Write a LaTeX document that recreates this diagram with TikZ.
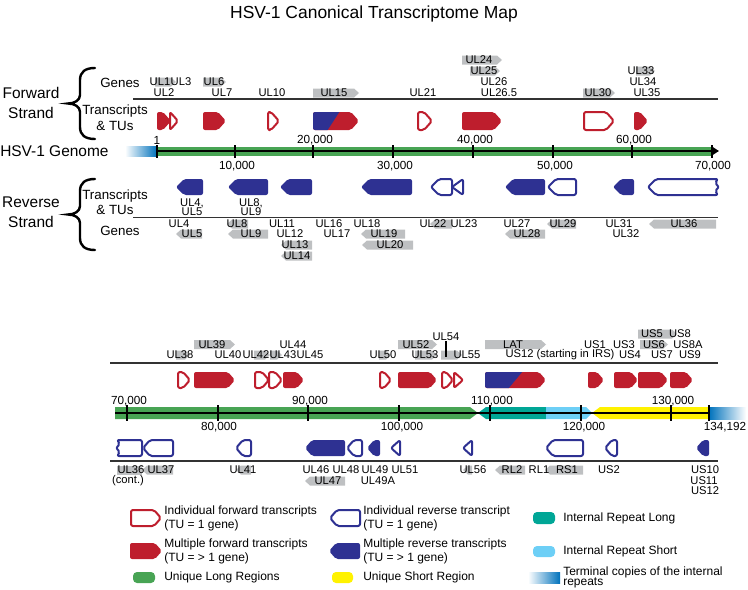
\documentclass[tikz,border=0pt]{standalone}
\usepackage{fontspec}
\setmainfont{Liberation Sans}
\usetikzlibrary{arrows.meta, positioning}

\definecolor{fwdred}{RGB}{190,30,45}
\definecolor{revblue}{RGB}{46,49,146}
\definecolor{ulgreen}{RGB}{72,164,84}
\definecolor{irlteal}{RGB}{0,166,150}
\definecolor{irsblue}{RGB}{109,207,246}
\definecolor{usyellow}{RGB}{255,242,0}
\definecolor{genegrey}{RGB}{190,192,194}
\definecolor{termblue}{RGB}{0,114,188}

% half height and tip length of the transcript arrows
\def\txh{9}\def\txp{8}
% transcripts: style, left x, right x, middle y
\newcommand{\fwdtx}[4]{\draw[#1] (#2,#4-\txh) -- (#3-\txp,#4-\txh) -- (#3,#4) -- (#3-\txp,#4+\txh) -- (#2,#4+\txh) -- cycle;}
\newcommand{\revtx}[4]{\draw[#1] (#3,#4-\txh) -- (#2+\txp,#4-\txh) -- (#2,#4) -- (#2+\txp,#4+\txh) -- (#3,#4+\txh) -- cycle;}
\newcommand{\fwdtri}[4]{\draw[#1] (#2,#4-\txh) -- (#3,#4) -- (#2,#4+\txh) -- cycle;}
\newcommand{\revtri}[4]{\draw[#1] (#3,#4-\txh) -- (#2,#4) -- (#3,#4+\txh) -- cycle;}
% transcript that starts on the reverse strand: left x, right x, y, split x top, split x bottom
\newcommand{\splittx}[5]{%
  \fill[fwdred, rounded corners=1.5pt] (#1,#3-\txh) -- (#2-\txp,#3-\txh) -- (#2,#3) -- (#2-\txp,#3+\txh) -- (#1,#3+\txh) -- cycle;
  \begin{scope}
    \clip[rounded corners=1.5pt] (#1,#3-\txh) -- (#2-\txp,#3-\txh) -- (#2,#3) -- (#2-\txp,#3+\txh) -- (#1,#3+\txh) -- cycle;
    \fill[revblue] (#1-1,#3-\txh-1) -- (#4,#3-\txh-1) -- (#5,#3+\txh+1) -- (#1-1,#3+\txh+1) -- cycle;
  \end{scope}}
% grey gene arrows: left x, right x, y
\newcommand{\fgene}[3]{\fill[genegrey] (#1,#3-4.5) -- (#2-5,#3-4.5) -- (#2,#3) -- (#2-5,#3+4.5) -- (#1,#3+4.5) -- cycle;}
\newcommand{\rgene}[3]{\fill[genegrey] (#2,#3-4.5) -- (#1+5,#3-4.5) -- (#1,#3) -- (#1+5,#3+4.5) -- (#2,#3+4.5) -- cycle;}

\begin{document}
\begin{tikzpicture}[x=0.75pt, y=-0.75pt,
    fwdopen/.style={draw=fwdred, line width=1.5pt, fill=white, rounded corners=1.5pt, line join=round},
    fwdfull/.style={fill=fwdred, draw=none, rounded corners=1.5pt},
    revopen/.style={draw=revblue, line width=1.5pt, fill=white, rounded corners=1.5pt, line join=round},
    revfull/.style={fill=revblue, draw=none, rounded corners=1.5pt},
    titlelbl/.style={font=\fontsize{13.1}{15}\selectfont, inner sep=0pt},
    strand/.style={font=\fontsize{11.6}{15}\selectfont, align=center, inner sep=0pt},
    rowlbl/.style={font=\fontsize{10}{11.6}\selectfont, align=center, inner sep=0pt},
    gene/.style={font=\fontsize{8.4}{8}\selectfont, inner sep=0pt},
    ticklbl/.style={font=\fontsize{8.8}{10}\selectfont, inner sep=0pt},
    legtxt/.style={font=\fontsize{9}{10.5}\selectfont, align=left, inner sep=0pt},
    track/.style={line width=1.1pt, draw=black!80},
    axisline/.style={line width=2pt},
    curly/.style={line width=1.8pt, line cap=round},
    swatch/.style={rounded corners=3pt}
]
\useasboundingbox (0,0) rectangle (748,589);

\node[titlelbl] (title) at (374,14) {HSV-1 Canonical Transcriptome Map};

% ---- first half of the genome ----
\node[strand] (fwdstrand) at (31,103) {Forward\\Strand};
\node[strand] (revstrand) at (31,212.5) {Reverse\\Strand};
\node[strand, anchor=west] (genome) at (0,151) {HSV-1 Genome};
\node[rowlbl] (fgenes) at (120,83) {Genes};
\node[rowlbl] (ftus) at (115,117.5) {Transcripts\\\& TUs};
\node[rowlbl] (rtus) at (115,202) {Transcripts\\\& TUs};
\node[rowlbl] (rgenes) at (120,231) {Genes};

\foreach \t in {68,179}
  \draw[curly] (95,\t) .. controls (85,\t) and (80,\t+4) .. (80,\t+12) -- (80,\t+27)
    .. controls (80,\t+32) and (75,\t+35.5) .. (68,\t+35.5)
    .. controls (75,\t+35.5) and (80,\t+39) .. (80,\t+44) -- (80,\t+59)
    .. controls (80,\t+67) and (85,\t+71) .. (95,\t+71);

\draw[track] (133,99) -- (718,99);
\draw[track] (133,217.5) -- (718,217.5);

% genome bar
\shade[left color=white, right color=termblue] (125,146.5) rectangle (157,156);
\fill[ulgreen] (157,146.5) rectangle (712,156);
\draw[axisline, -{Triangle[length=5pt, width=6pt]}] (157,151) -- (719,151);
\foreach \x in {157,235,313,393,473,553,632,712}
  \draw[axisline] (\x,145) -- (\x,158);
\foreach \x/\t in {157/1, 315/{20,000}, 475/{40,000}, 634/{60,000}}
  \node[ticklbl] (tk\x) at (\x,140) {\t};
\foreach \x/\t in {237/{10,000}, 395/{30,000}, 555/{50,000}, 713/{70,000}}
  \node[ticklbl] (tk\x) at (\x,166) {\t};

% forward transcripts
\fwdtx{fwdfull}{157}{171}{121}
\fwdtri{fwdopen}{170}{178}{121}
\fwdtx{fwdfull}{203}{226}{121}
\fwdtx{fwdopen}{268}{279}{121}
\splittx{313}{359}{121}{340}{327}
\fwdtx{fwdopen}{418}{432}{121}
\fwdtx{fwdfull}{462}{502}{121}
\fwdtx{fwdopen}{584}{614}{121}
\fwdtx{fwdfull}{634}{648}{121}

% forward genes
\foreach \a/\b/\y in {155/176/82, 203/226/82, 313/359/93, 462/502/60, 470/500/71, 583/615/93, 636/655/71}
  {\fgene{\a}{\b}{\y}}
\foreach \g/\x in {UL24/479}
  \node[gene] (tf-\g) at (\x,60) {\g};
\foreach \g/\x in {UL25/484, UL33/641}
  \node[gene] (tf-\g) at (\x,71) {\g};
\foreach \g/\x in {UL1/160, UL3/181, UL6/214, UL26/494, UL34/643}
  \node[gene] (tf-\g) at (\x,82) {\g};
\foreach \g/\x in {UL2/164, UL7/222, UL10/272, UL15/334, UL21/423, UL26.5/499, UL30/598, UL35/647}
  \node[gene] (tf-\g) at (\x,93) {\g};

% reverse transcripts
\def\txh{8}
\revtx{revfull}{176}{203}{187}
\revtx{revfull}{228}{268}{187}
\revtx{revfull}{280}{312}{187}
\revtx{revfull}{361}{412}{187}
\revtx{revopen}{431}{452}{187}
\revtri{revopen}{452}{463}{187}
\revtx{revfull}{505}{545}{187}
\revtx{revopen}{548}{576}{187}
\revtx{revfull}{613}{634}{187}
\draw[revopen] (718,179) -- (656,179) -- (648,187) -- (656,195) -- (718,195) -- (715,191) -- (719,187) -- (715,183) -- cycle;
\node[gene, align=center, font=\fontsize{8.4}{7.2}\selectfont] (tu45) at (192,207) {UL4,\\UL5};
\node[gene, align=center, font=\fontsize{8.4}{7.2}\selectfont] (tu89) at (251,207) {UL8,\\UL9};

% reverse genes
\foreach \a/\b/\y in {176/202/234, 227/248/224, 228/268/234, 281/312/245, 281/312/256, 361/405/234, 362/413/245, 430/452/224, 505/545/234, 547/576/224, 649/716/224}
  {\rgene{\a}{\b}{\y}}
\foreach \g/\x in {UL4/179, UL8/237, UL11/282, UL16/329, UL18/367, UL22/433, UL23/464, UL27/517, UL29/563, UL31/619, UL36/684}
  \node[gene] (tr-\g) at (\x,224) {\g};
\foreach \g/\x in {UL5/192, UL9/251, UL12/290, UL17/337, UL19/384, UL28/527, UL32/626}
  \node[gene] (tr-\g) at (\x,234) {\g};
\foreach \g/\x in {UL13/295, UL20/390}
  \node[gene] (tr-\g) at (\x,245) {\g};
\node[gene] (tr-UL14) at (297,256) {UL14};

% ---- second half of the genome ----
\draw[track] (110,363) -- (718,363);
\draw[track] (110,461) -- (718,461);

% genome bar with repeat regions
\fill[ulgreen] (115,407) -- (470,407) -- (478,413) -- (470,419) -- (115,419) -- cycle;
\fill[irlteal] (478,413) -- (486,407) -- (546,407) -- (546,419) -- (486,419) -- cycle;
\fill[irsblue] (546,407) -- (586,407) -- (592,413) -- (586,419) -- (546,419) -- cycle;
\fill[usyellow] (592,413) -- (600,407) -- (709,407) -- (709,419) -- (600,419) -- cycle;
\shade[left color=termblue, right color=white] (709,407) rectangle (746,419);
\draw[axisline] (115,413) -- (709,413);
\foreach \x in {127,218,308,399,490,581,671,709}
  \draw[axisline] (\x,405) -- (\x,421);
\foreach \x/\t in {129/{70,000}, 310/{90,000}, 492/{110,000}, 673/{130,000}}
  \node[ticklbl] (tk\x) at (\x,401) {\t};
\foreach \x/\t in {219/{80,000}, 402/{100,000}, 584/{120,000}, 725/{134,192}}
  \node[ticklbl] (tk\x) at (\x,427) {\t};

% forward transcripts
\def\txh{8}\def\txp{7}
\fwdtx{fwdopen}{178}{190}{380}
\fwdtx{fwdfull}{194}{235}{380}
\fwdtx{fwdopen}{255}{269}{380}
\fwdtx{fwdopen}{269}{282}{380}
\fwdtx{fwdfull}{283}{304}{380}
\fwdtx{fwdopen}{380}{391}{380}
\fwdtx{fwdfull}{398}{437}{380}
\fwdtx{fwdopen}{442}{453}{380}
\fwdtri{fwdopen}{454}{463}{380}
\splittx{485}{546}{380}{523}{508}
\fwdtx{fwdfull}{588}{604}{380}
\fwdtx{fwdfull}{614}{638}{380}
\fwdtx{fwdfull}{638}{668}{380}
\fwdtx{fwdfull}{670}{693}{380}

% forward genes
\foreach \a/\b/\y in {176/190/355, 194/235/344.5, 254/270/355, 270/282/355, 379/391/355, 398/437/344.5, 415/437/355, 441/462/355, 485/546/344.5, 638/677/334, 640/668/344.5}
  {\fgene{\a}{\b}{\y}}
\foreach \g/\x in {US5/652, US8/680}
  \node[gene] (bf-\g) at (\x,334) {\g};
\node[gene] (bf-UL54) at (446,337) {UL54};
\foreach \g/\x in {UL39/212, UL44/293, UL52/416, LAT/513, US1/595, US3/624, US6/654, US8A/688}
  \node[gene] (bf-\g) at (\x,344.5) {\g};
\foreach \g/\x in {UL38/180, UL40/228, UL42/256, UL43/283, UL45/310, UL50/383, UL53/425, UL55/467, US4/630, US7/662, US9/690}
  \node[gene] (bf-\g) at (\x,355) {\g};
\node[gene] (bf-US12) at (560,355) {US12 (starting in IRS)};
\coordinate (ul54end) at (446,357);
\draw[line width=0.8pt] (bf-UL54) -- (ul54end);

% reverse transcripts
\draw[revopen] (142,440) -- (117,440) -- (120,444) -- (116,448) -- (120,452) -- (117,456) -- (142,456) -- cycle;
\revtx{revopen}{143}{173}{448}
\revtx{revopen}{236}{251}{448}
\revtx{revfull}{305}{345}{448}
\revtx{revopen}{347}{362}{448}
\revtx{revfull}{367}{380}{448}
\revtri{revopen}{391}{400}{448}
\revtri{revopen}{463}{472}{448}
\revtx{revopen}{546}{583}{448}
\revtx{revopen}{605}{617}{448}
\revtx{revfull}{696}{709}{448}

% reverse genes
\fill[genegrey] (117,465.5) rectangle (142,474.5);
\foreach \a/\b/\y in {142/173/470, 236/251/470, 305/345/481, 463/472/470, 495/525/470, 545/583/470}
  {\rgene{\a}{\b}{\y}}
\foreach \g/\x in {UL36/131, UL37/161, UL41/243, UL46/316, UL48/346, UL49/375, UL51/405, UL56/473, RL2/512, RL1/539, RS1/567, US2/609, US10/705}
  \node[gene] (br-\g) at (\x,470) {\g};
\foreach \g/\x in {UL47/328, UL49A/378, US11/704}
  \node[gene] (br-\g) at (\x,481) {\g};
\node[gene] (br-cont) at (128,481) {(cont.)};
\node[gene] (br-US12) at (705,491) {US12};

% ---- legend ----
\fwdtx{fwdopen}{131}{161}{518}
\revtx{revopen}{330}{360}{518}
\fwdtx{fwdfull}{130}{162}{551}
\revtx{revfull}{329}{360}{551}
\fill[swatch, irlteal] (533,512) rectangle (555,524);
\fill[swatch, irsblue] (533,546) rectangle (555,557);
\fill[swatch, ulgreen] (133,572) rectangle (155,583);
\fill[swatch, usyellow] (332,572) rectangle (353,583);
\shade[left color=white, right color=termblue] (528,572) rectangle (560,583);

\coordinate (key1) at (162,518.5);
\coordinate (key2) at (361,518.5);
\coordinate (key3) at (561,518);
\coordinate (key4) at (162,551.5);
\coordinate (key5) at (361,551.5);
\coordinate (key6) at (561,551);
\coordinate (key7) at (162,577.5);
\coordinate (key8) at (361,577.5);
\coordinate (key9) at (561,577.5);
\node[legtxt, right=1.5pt of key1] (keyfwd1) {Individual forward transcripts\\(TU = 1 gene)};
\node[legtxt, right=1.5pt of key2] (keyrev1) {Individual reverse transcript\\(TU = 1 gene)};
\node[legtxt, right=1.5pt of key3] (keyirl) {Internal Repeat Long};
\node[legtxt, right=1.5pt of key4] (keyfwdn) {Multiple forward transcripts\\(TU = > 1 gene)};
\node[legtxt, right=1.5pt of key5] (keyrevn) {Multiple reverse transcripts\\(TU = > 1 gene)};
\node[legtxt, right=1.5pt of key6] (keyirs) {Internal Repeat Short};
\node[legtxt, right=1.5pt of key7] (keyul) {Unique Long Regions};
\node[legtxt, right=1.5pt of key8] (keyus) {Unique Short Region};
\node[legtxt, right=1.5pt of key9, font=\fontsize{9}{8}\selectfont] (keyterm) {Terminal copies of the internal\\repeats};
\end{tikzpicture}
\end{document}
